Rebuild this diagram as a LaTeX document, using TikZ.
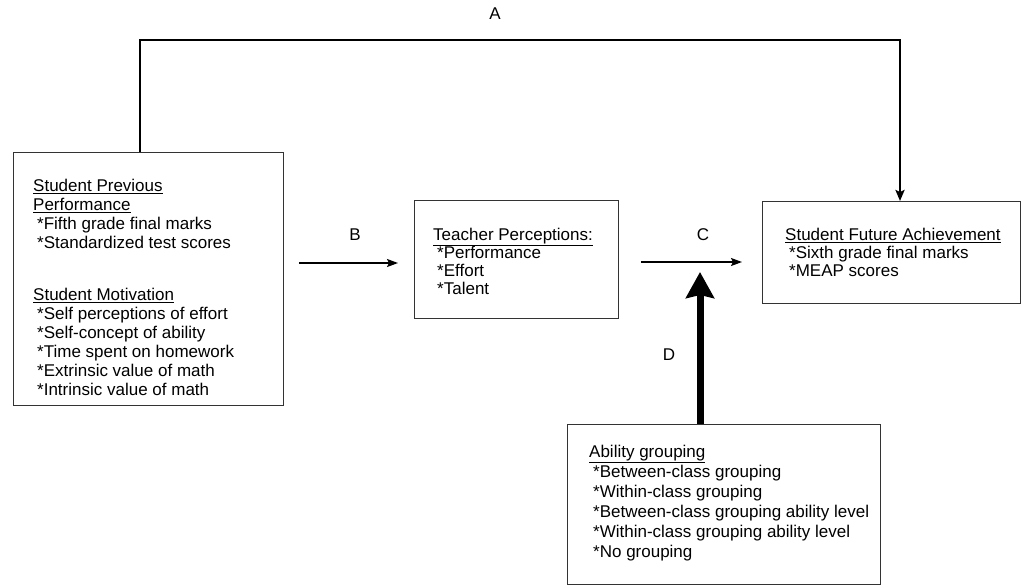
\documentclass[tikz,border=0pt]{standalone}
\usepackage{fontspec}
\setmainfont{Liberation Sans}
\usetikzlibrary{arrows.meta}
\begin{document}
\begin{tikzpicture}[x=1pt,y=-1pt,
  every node/.style={font=\fontsize{17}{19}\selectfont},
  boxstyle/.style={draw=black!80, line width=0.8pt, inner sep=0, anchor=north west},
  txt/.style={anchor=north west, align=left, inner sep=0},
  tighttxt/.style={txt, font=\fontsize{17}{18}\selectfont},
  widetxt/.style={txt, font=\fontsize{17}{20}\selectfont},
  lbl/.style={inner sep=0},
  thinarrow/.style={line width=1.5pt, -{Stealth[length=11pt,width=8pt,inset=2pt]}},
  linkA/.style={line width=2.6pt, -{Stealth[length=11pt,width=9pt,inset=2pt]}},
  boldarrow/.style={line width=7pt, -{Stealth[length=26pt,width=28pt,inset=3pt]}}]
\useasboundingbox (0,0) rectangle (1022,587);

% boxes
\node[boxstyle, minimum width=270pt, minimum height=253pt] (b1) at (13,152) {};
\node[boxstyle, minimum width=204pt, minimum height=118pt] (b2) at (414,200) {};
\node[boxstyle, minimum width=258pt, minimum height=102pt] (b3) at (762,201) {};
\node[boxstyle, minimum width=313pt, minimum height=160pt] (b4) at (567,424) {};

% texts
\node[txt] (t1) at (33,179) {\underline{Student Previous}\\
\underline{Performance}\\
\hspace*{4pt}*Fifth grade final marks\\
\hspace*{4pt}*Standardized test scores\\[33pt]
\underline{Student Motivation}\\
\hspace*{4pt}*Self perceptions of effort\\
\hspace*{4pt}*Self-concept of ability\\
\hspace*{4pt}*Time spent on homework\\
\hspace*{4pt}*Extrinsic value of math\\
\hspace*{4pt}*Intrinsic value of math};

\node[tighttxt] (t2) at (433,228) {\underline{Teacher Perceptions:}\\
\hspace*{4pt}*Performance\\
\hspace*{4pt}*Effort\\
\hspace*{4pt}*Talent};

\node[tighttxt] (t3) at (785,228) {\underline{Student Future Achievement}\\
\hspace*{4pt}*Sixth grade final marks\\
\hspace*{4pt}*MEAP scores};

\node[widetxt] (t4) at (589,445) {\underline{Ability grouping}\\
\hspace*{4pt}*Between-class grouping\\
\hspace*{4pt}*Within-class grouping\\
\hspace*{4pt}*Between-class grouping ability level\\
\hspace*{4pt}*Within-class grouping ability level\\
\hspace*{4pt}*No grouping};

% labels
\node[lbl] (la) at (495,14) {A};
\node[lbl] (lb) at (355,235) {B};
\node[lbl] (lc) at (703,235) {C};
\node[lbl] (ld) at (669,355) {D};

% connectors
\coordinate (a1) at (140,40);
\coordinate (a2) at (900,40);
\draw[linkA] (b1.north -| a1) -- (a1) -- (a2) -- (a2 |- b3.north);

\draw[thinarrow, shorten <=15pt, shorten >=16pt] (b1.east |- 0,263) -- (b2.west |- 0,263);
\draw[thinarrow, shorten <=22pt, shorten >=20pt] (b2.east |- 0,262) -- (b3.west |- 0,262);

\coordinate (dtip) at (700,272);
\draw[boldarrow] (b4.north -| dtip) -- (dtip);
\end{tikzpicture}
\end{document}
